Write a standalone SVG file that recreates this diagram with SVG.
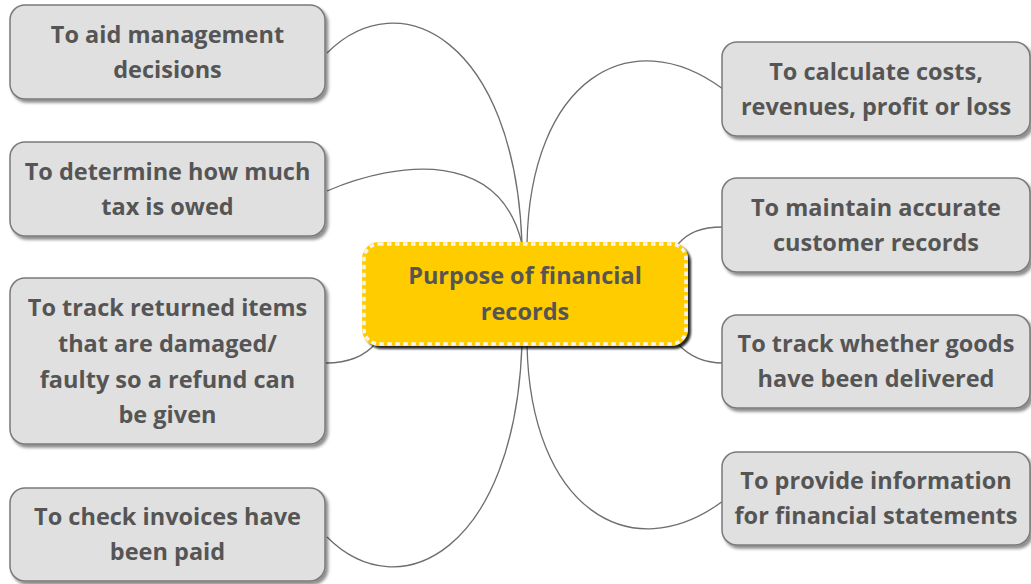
<svg xmlns="http://www.w3.org/2000/svg" width="1031" height="584" viewBox="0 0 1031 584">
<defs>
<filter id="sh" x="-10%" y="-10%" width="130%" height="140%">
<feDropShadow dx="2.5" dy="3" stdDeviation="1.8" flood-color="#000" flood-opacity="0.45"/>
</filter>
<filter id="shc" x="-10%" y="-10%" width="130%" height="140%">
<feDropShadow dx="3" dy="3" stdDeviation="1.2" flood-color="#000" flood-opacity="0.85"/>
</filter>
</defs>
<style>
.box{fill:#e0e0e0;stroke:#7a7a7a;stroke-width:1.5;filter:url(#sh)}
.core{fill:#ffcc00;stroke:#ffcc00;stroke-width:4;filter:url(#shc)}
.dash{fill:none;stroke:#f4f4f4;stroke-width:3.5;stroke-dasharray:4.5 3.5}
.t{font-family:"Open Sans","Noto Sans","DejaVu Sans",sans-serif;font-weight:700;font-size:23.5px;fill:#555;text-anchor:middle}
.c{fill:none;stroke:#6e6e6e;stroke-width:1.3}
</style>
<rect width="1031" height="584" fill="#fff"/>
<g id="connectors">
<path class="c" d="M 327 53 C 400 -20, 515 40, 522 244"/>
<path class="c" d="M 327 191 C 400 160, 500 150, 522 244"/>
<path class="c" d="M 527 244 C 530 80, 630 20, 723 89"/>
<path class="c" d="M 327 537 C 400 610, 515 550, 522 344"/>
<path class="c" d="M 527 344 C 530 508, 630 570, 723 501"/>
<path class="c" d="M 326 363 C 350 363, 365 356, 376 343"/>
<path class="c" d="M 678 244 C 688 233, 700 227, 723 227"/>
<path class="c" d="M 678 344 C 690 357, 705 363, 723 363"/>
</g>
<g id="n1"><rect class="box" x="10" y="5" width="315" height="94" rx="15"/>
<text class="t" x="167.5" y="43">To aid management</text><text class="t" x="167.5" y="78">decisions</text></g>
<g id="n2"><rect class="box" x="10" y="142" width="315" height="94" rx="15"/>
<text class="t" x="167.5" y="180">To determine how much</text><text class="t" x="167.5" y="215">tax is owed</text></g>
<g id="n3"><rect class="box" x="10" y="278" width="315" height="166" rx="15"/>
<text class="t" x="167.5" y="316">To track returned items</text><text class="t" x="167.5" y="352">that are damaged/</text><text class="t" x="167.5" y="388">faulty so a refund can</text><text class="t" x="167.5" y="423">be given</text></g>
<g id="n4"><rect class="box" x="10" y="488" width="315" height="93" rx="15"/>
<text class="t" x="167.5" y="525">To check invoices have</text><text class="t" x="167.5" y="560">been paid</text></g>
<g id="r1"><rect class="box" x="722" y="42" width="308" height="94" rx="15"/>
<text class="t" x="876" y="80">To calculate costs,</text><text class="t" x="876" y="115">revenues, profit or loss</text></g>
<g id="r2"><rect class="box" x="722" y="178" width="308" height="94" rx="15"/>
<text class="t" x="876" y="216">To maintain accurate</text><text class="t" x="876" y="251">customer records</text></g>
<g id="r3"><rect class="box" x="722" y="315" width="308" height="93" rx="15"/>
<text class="t" x="876" y="352">To track whether goods</text><text class="t" x="876" y="387">have been delivered</text></g>
<g id="r4"><rect class="box" x="722" y="452" width="308" height="93" rx="15"/>
<text class="t" x="876" y="489">To provide information</text><text class="t" x="876" y="524">for financial statements</text></g>
<g id="center"><rect class="core" x="364" y="244" width="322" height="100" rx="15"/>
<rect class="dash" x="364" y="244" width="322" height="100" rx="15"/>
<text class="t" x="525" y="284">Purpose of financial</text><text class="t" x="525" y="320">records</text></g>
</svg>
